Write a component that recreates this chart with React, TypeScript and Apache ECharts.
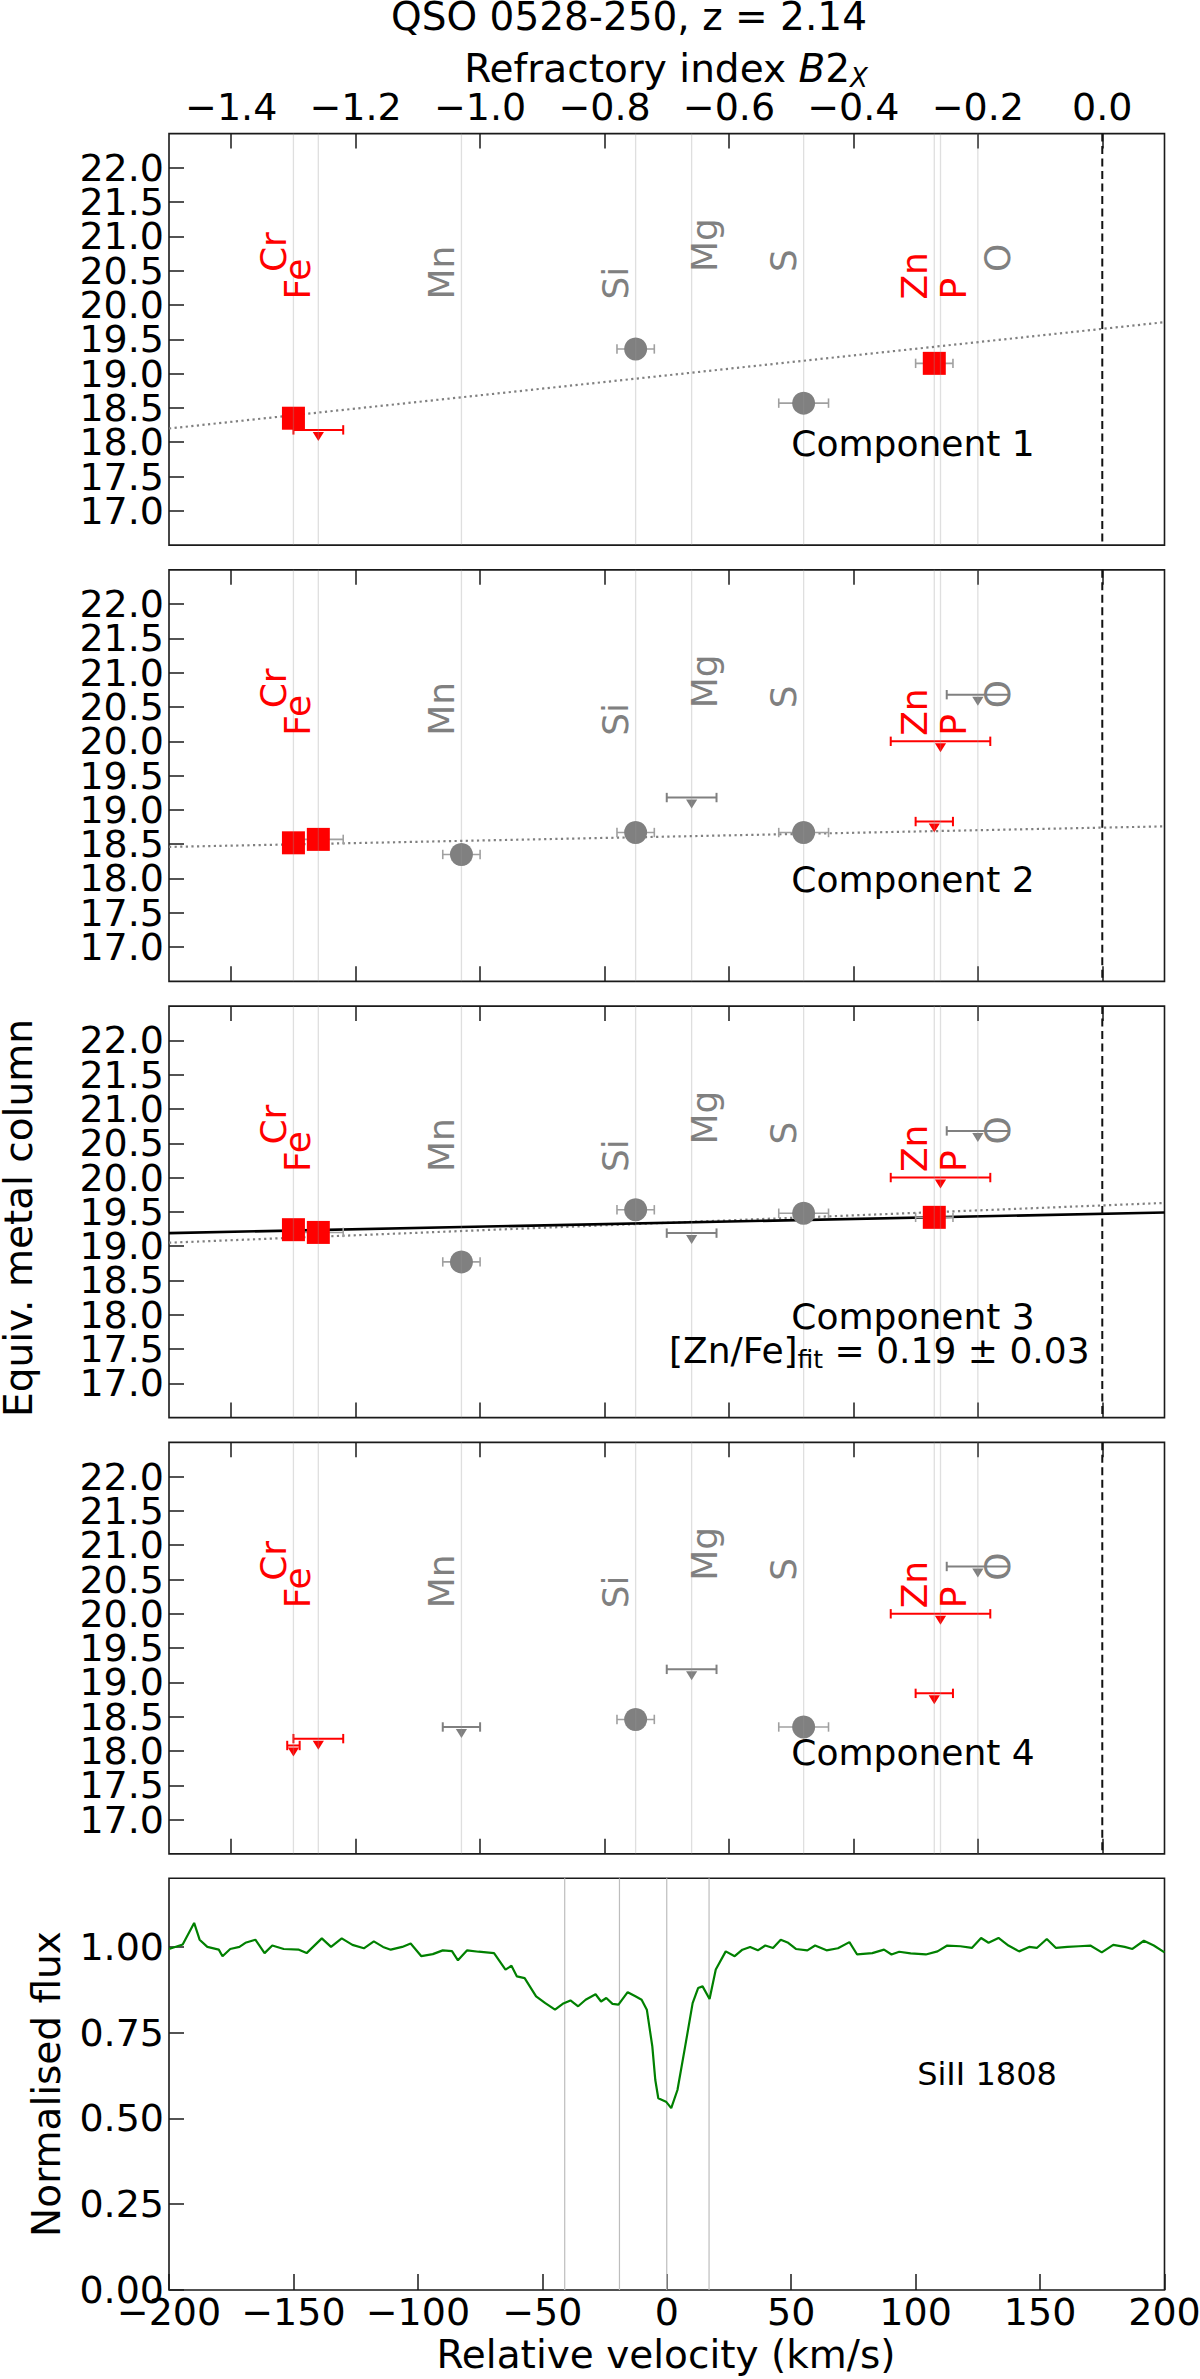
import React, { useEffect, useRef } from "react";
import * as echarts from "echarts";

const FONT = '"DejaVu Sans", "Noto Sans", sans-serif';

// ---------------- data ----------------
const elements = ["Fe", "Cr", "Mn", "Si", "Mg", "S", "Zn", "P", "O"];
const refractoryIndex = [-1.3, -1.26, -1.03, -0.75, -0.66, -0.48, -0.27, -0.26, -0.2];

const b2TickValues = [-1.4, -1.2, -1.0, -0.8, -0.6, -0.4, -0.2, 0.0];
const columnTickValues = [17.0, 17.5, 18.0, 18.5, 19.0, 19.5, 20.0, 20.5, 21.0, 21.5, 22.0];
const velocityTickValues = [-200, -150, -100, -50, 0, 50, 100, 150, 200];
const fluxTickValues = [0, 0.25, 0.5, 0.75, 1.0];

const componentNames = ["Component 1", "Component 2", "Component 3", "Component 4"];

type Row = [string, number, number]; // element, equiv. metal column, B2 uncertainty

const comp1Detections: Row[] = [["Fe", 18.35, 0.01], ["Si", 19.36, 0.03], ["S", 18.57, 0.04], ["Zn", 19.15, 0.03]];
const comp1Limits: Row[] = [["Cr", 18.18, 0.04]];
const comp1Fit: [number, number][] = [[-1.5, 18.2], [0.1, 19.75]];

const comp2Detections: Row[] = [["Fe", 18.52, 0.01], ["Cr", 18.57, 0.04], ["Mn", 18.35, 0.03], ["Si", 18.67, 0.03], ["S", 18.67, 0.04]];
const comp2Limits: Row[] = [["Mg", 19.18, 0.04], ["Zn", 18.83, 0.03], ["P", 20.0, 0.08], ["O", 20.68, 0.05]];
const comp2Fit: [number, number][] = [[-1.5, 18.46], [0.1, 18.76]];

const comp3Detections: Row[] = [["Fe", 19.24, 0.01], ["Cr", 19.2, 0.04], ["Mn", 18.77, 0.03], ["Si", 19.53, 0.03], ["S", 19.48, 0.04], ["Zn", 19.42, 0.03]];
const comp3Limits: Row[] = [["Mg", 19.19, 0.04], ["P", 20.0, 0.08], ["O", 20.68, 0.05]];
const comp3Fit: [number, number][] = [[-1.5, 19.05], [0.1, 19.63]];
const comp3ZnFeFit: [number, number][] = [[-1.5, 19.19], [0.1, 19.49]];

const comp4Detections: Row[] = [["Si", 18.46, 0.03], ["S", 18.35, 0.04]];
const comp4Limits: Row[] = [["Fe", 18.08, 0.01], ["Cr", 18.18, 0.04], ["Mn", 18.35, 0.03], ["Mg", 19.19, 0.04], ["Zn", 18.84, 0.03], ["P", 20.0, 0.08], ["O", 20.69, 0.05]];

const componentVelocities = [-41, -19, 0, 17];

const velocity = [-200.0, -194.5, -189.9, -187.7, -184.6, -180.0, -178.5, -175.4, -171.7, -169.3, -165.3, -161.6, -158.5, -153.9, -147.8, -144.7, -138.6, -134.9, -130.6, -126.3, -121.7, -117.7, -114.0, -110.9, -106.3, -102.9, -98.6, -94.0, -90.0, -86.3, -83.9, -80.2, -75.6, -69.4, -64.8, -62.4, -60.2, -57.1, -52.5, -48.8, -44.9, -41.8, -38.7, -35.6, -32.6, -28.6, -26.4, -24.3, -21.8, -19.4, -15.7, -12.6, -10.1, -8.0, -5.8, -4.6, -3.4, -0.3, 1.8, 4.3, 7.4, 10.4, 12.6, 14.4, 17.2, 19.7, 23.7, 27.3, 30.4, 33.5, 36.6, 39.6, 42.7, 45.8, 48.8, 51.9, 56.5, 59.6, 64.2, 68.8, 73.4, 76.5, 82.6, 87.3, 90.3, 93.4, 98.0, 104.1, 108.8, 112.7, 118.0, 122.6, 126.3, 129.3, 133.3, 137.3, 141.6, 145.6, 148.7, 152.7, 156.4, 161.0, 165.6, 170.2, 174.8, 179.4, 184.0, 187.1, 191.7, 195.7, 200.0];
const flux = [0.994, 1.007, 1.07, 1.021, 1.0, 0.992, 0.973, 0.994, 1.0, 1.012, 1.021, 0.982, 1.004, 0.994, 0.992, 0.982, 1.025, 1.0, 1.025, 1.006, 0.996, 1.016, 1.0, 0.992, 1.0, 1.01, 0.973, 0.979, 0.99, 0.988, 0.961, 0.99, 0.986, 0.982, 0.934, 0.945, 0.914, 0.909, 0.856, 0.836, 0.817, 0.834, 0.844, 0.827, 0.846, 0.862, 0.841, 0.851, 0.834, 0.832, 0.868, 0.856, 0.846, 0.817, 0.71, 0.612, 0.559, 0.549, 0.53, 0.583, 0.71, 0.836, 0.88, 0.885, 0.848, 0.934, 0.987, 0.973, 0.992, 1.0, 0.99, 1.004, 0.997, 1.021, 1.012, 0.994, 0.99, 1.004, 0.99, 0.996, 1.014, 0.978, 0.982, 0.992, 0.978, 0.986, 0.981, 0.978, 0.987, 1.004, 1.002, 0.997, 1.026, 1.012, 1.026, 1.004, 0.987, 1.0, 0.997, 1.023, 0.997, 1.0, 1.002, 1.004, 0.984, 1.006, 1.0, 0.994, 1.018, 1.004, 0.984];

// ---------------- styles / layout ----------------
const RED = "#ff0000";
const GREY = "#808080";
const FRAME = "#1a1a1a";
const DET_ERR = "#a0a0a0";
const elementColor: Record<string, string> = { Fe: RED, Cr: RED, Zn: RED, P: RED, Mn: GREY, Si: GREY, Mg: GREY, S: GREY, O: GREY };
const labelDx: Record<string, number> = { Fe: 4.5, Cr: -45, Mn: -19.5, Si: -20, Mg: 13, S: -20.5, Zn: -20, P: 13, O: 19.5 };
const labelStart: Record<string, number> = { Fe: 166, Cr: 138.5, Mn: 166, Si: 166, Mg: 138.5, S: 138.5, Zn: 166, P: 166, O: 138.5 };

const LEFT = 169;
const WIDTH = 995.5;
const PANEL_TOP0 = 133.6;
const PANEL_STEP = 436.25;
const PANEL_H = 411.5;
const FLUX_TOP = 1878.3;
const FLUX_H = 411.7;
const TICK_FS = 38;
const LABEL_FS = 39;

const minus = (v: number, d: number) => (v < 0 ? "\u2212" : "") + Math.abs(v).toFixed(d);

let measureCtx: CanvasRenderingContext2D | null = null;
function textWidth(t: string, size: number, italic: boolean) {
  if (!measureCtx) measureCtx = document.createElement("canvas").getContext("2d");
  if (!measureCtx) return t.length * size * 0.6;
  measureCtx.font = `${italic ? "italic " : ""}${size}px ${FONT}`;
  return measureCtx.measureText(t).width;
}

function txt(text: string, x: number, y: number, size: number, opts: any = {}) {
  const align = opts.align || "center";
  return {
    type: "text",
    x,
    y,
    rotation: opts.rotation || 0,
    z: 100,
    silent: true,
    style: {
      text,
      fill: opts.fill || "#000",
      font: `${opts.italic ? "italic " : ""}${size}px ${FONT}`,
      fontSize: size,
      fontFamily: FONT,
      fontStyle: opts.italic ? "italic" : "normal",
      align,
      textAlign: align,
      verticalAlign: "middle",
      textVerticalAlign: "middle",
    },
  };
}

type Seg = { t: string; size: number; italic?: boolean; dy?: number };
function segLine(segs: Seg[], x: number, baseline: number, anchor: "left" | "center") {
  const widths = segs.map((s) => textWidth(s.t, s.size, !!s.italic));
  const total = widths.reduce((a, b) => a + b, 0);
  let cx = anchor === "center" ? x - total / 2 : x;
  const out: any[] = [];
  segs.forEach((s, i) => {
    out.push(txt(s.t, cx, baseline + (s.dy || 0) - 0.35 * s.size, s.size, { align: "left", italic: s.italic }));
    cx += widths[i];
  });
  return out;
}

function buildOption() {
  const grids: any[] = [];
  const xAxes: any[] = [];
  const yAxes: any[] = [];
  const series: any[] = [];

  const tickStyle = { color: FRAME, width: 1.5 };
  const labelBase = { fontSize: TICK_FS, fontFamily: FONT, color: "#000", showMinLabel: true, showMaxLabel: true, hideOverlap: false };
  const noLine = { show: false, onZero: false };
  // whole-number and half-number labels sit on two coincident axes so that none is dropped
  const wholeTicks = columnTickValues.filter((v) => Number.isInteger(v));
  const halfTicks = columnTickValues.filter((v) => !Number.isInteger(v));

  const b2Axis = (grid: number, position: string, labels: boolean) => ({
    type: "value",
    gridIndex: grid,
    position,
    min: -1.5,
    max: 0.1,
    axisLine: noLine,
    splitLine: { show: false },
    axisTick: { show: true, inside: true, length: 15, lineStyle: tickStyle, customValues: b2TickValues },
    axisLabel: labels
      ? { show: true, customValues: b2TickValues, formatter: (v: number) => minus(v, 1), margin: 8, ...labelBase }
      : { show: false },
  });

  const panels = [
    { det: comp1Detections, lim: comp1Limits, fits: [comp1Fit], solid: null as any },
    { det: comp2Detections, lim: comp2Limits, fits: [comp2Fit], solid: null as any },
    { det: comp3Detections, lim: comp3Limits, fits: [comp3Fit], solid: comp3ZnFeFit },
    { det: comp4Detections, lim: comp4Limits, fits: [], solid: null as any },
  ];

  panels.forEach((p, i) => {
    grids.push({
      left: LEFT,
      top: PANEL_TOP0 + i * PANEL_STEP,
      width: WIDTH,
      height: PANEL_H,
      show: true,
      borderColor: FRAME,
      borderWidth: 1.6,
      backgroundColor: "rgba(0,0,0,0)",
      containLabel: false,
      outerBoundsMode: "none",
    });
    let xi: number;
    if (i === 0) {
      xi = xAxes.length;
      xAxes.push(b2Axis(i, "top", true));
    } else {
      xi = xAxes.length;
      xAxes.push(b2Axis(i, "bottom", false));
      xAxes.push(b2Axis(i, "top", false));
    }
    const yi = yAxes.length;
    yAxes.push({
      type: "value",
      gridIndex: i,
      position: "left",
      min: 16.5,
      max: 22.5,
      axisLine: noLine,
      splitLine: { show: false },
      axisTick: { show: true, inside: true, length: 15, lineStyle: tickStyle, customValues: columnTickValues },
      axisLabel: { show: true, customValues: wholeTicks, formatter: (v: number) => v.toFixed(1), margin: 5, ...labelBase },
    });
    yAxes.push({
      type: "value",
      gridIndex: i,
      position: "right",
      offset: -WIDTH,
      min: 16.5,
      max: 22.5,
      axisLine: noLine,
      splitLine: { show: false },
      axisTick: { show: false },
      axisLabel: { show: true, inside: true, customValues: halfTicks, formatter: (v: number) => v.toFixed(1), margin: 5, ...labelBase },
    });

    const ax = { xAxisIndex: xi, yAxisIndex: yi };

    // fits
    p.fits.forEach((f) => {
      series.push({
        type: "line",
        ...ax,
        data: f,
        showSymbol: false,
        silent: true,
        z: 1,
        lineStyle: { color: GREY, width: 2.2, type: [2.2, 3.4] },
      });
    });
    if (p.solid) {
      series.push({
        type: "line",
        ...ax,
        data: p.solid,
        showSymbol: false,
        silent: true,
        z: 1,
        lineStyle: { color: "#000", width: 2.6, type: "solid" },
      });
    }

    // error bars + upper-limit arrows
    const items = [
      ...p.det.map((r) => ({ el: r[0], y: r[1], err: r[2], limit: false })),
      ...p.lim.map((r) => ({ el: r[0], y: r[1], err: r[2], limit: true })),
    ].map((it) => ({ ...it, b2: refractoryIndex[elements.indexOf(it.el)] }));

    series.push({
      type: "custom",
      ...ax,
      silent: true,
      z: 2,
      data: items.map((it) => [it.b2, it.y]),
      renderItem: (params: any, api: any) => {
        const it = items[params.dataIndex];
        const c = api.coord([it.b2, it.y]);
        const l = api.coord([it.b2 - it.err, it.y])[0];
        const r = api.coord([it.b2 + it.err, it.y])[0];
        const color = it.limit ? elementColor[it.el] : DET_ERR;
        const lw = it.limit ? 2 : 1.6;
        const st = { stroke: color, lineWidth: lw };
        const children: any[] = [
          { type: "line", shape: { x1: l, y1: c[1], x2: r, y2: c[1] }, style: st },
          { type: "line", shape: { x1: l, y1: c[1] - 4.7, x2: l, y2: c[1] + 4.7 }, style: st },
          { type: "line", shape: { x1: r, y1: c[1] - 4.7, x2: r, y2: c[1] + 4.7 }, style: st },
        ];
        if (it.limit) {
          children.push({
            type: "polygon",
            shape: { points: [[c[0] - 5.6, c[1] + 2], [c[0] + 5.6, c[1] + 2], [c[0], c[1] + 11]] },
            style: { fill: color },
          });
        }
        return { type: "group", children };
      },
    });

    // detection markers
    series.push({
      type: "scatter",
      ...ax,
      silent: true,
      z: 3,
      symbolSize: 23,
      data: p.det.map((r) => ({
        value: [refractoryIndex[elements.indexOf(r[0])], r[1]],
        symbol: elementColor[r[0]] === RED ? "rect" : "circle",
        itemStyle: { color: elementColor[r[0]], opacity: 1 },
      })),
    });

    // element reference lines (semi-transparent, on top)
    series.push({
      type: "custom",
      ...ax,
      silent: true,
      z: 4,
      data: refractoryIndex.map((v) => [v, 20]),
      renderItem: (params: any, api: any) => {
        const cs = params.coordSys;
        const x = api.coord([api.value(0), 20])[0];
        return {
          type: "line",
          shape: { x1: x, y1: cs.y, x2: x, y2: cs.y + cs.height },
          style: { stroke: "rgba(150,150,150,0.3)", lineWidth: 1.3 },
        };
      },
    });

    // dashed zero line
    series.push({
      type: "custom",
      ...ax,
      silent: true,
      z: 4,
      data: [[0, 20]],
      renderItem: (params: any, api: any) => {
        const cs = params.coordSys;
        const x = api.coord([api.value(0), 20])[0];
        return {
          type: "line",
          shape: { x1: x, y1: cs.y, x2: x, y2: cs.y + cs.height },
          style: { stroke: "#111", lineWidth: 2, lineDash: [8, 4.5] },
        };
      },
    });

    // element labels
    series.push({
      type: "custom",
      ...ax,
      silent: true,
      z: 5,
      data: refractoryIndex.map((v) => [v, 20]),
      renderItem: (params: any, api: any) => {
        const cs = params.coordSys;
        const el = elements[params.dataIndex];
        const x = api.coord([api.value(0), 20])[0] + labelDx[el];
        const y = cs.y + labelStart[el];
        return {
          type: "text",
          x,
          y,
          rotation: Math.PI / 2,
          style: {
            text: el,
            fill: elementColor[el],
            font: `36px ${FONT}`,
            fontSize: 36,
            fontFamily: FONT,
            align: "left",
            textAlign: "left",
            verticalAlign: "middle",
            textVerticalAlign: "middle",
          },
        };
      },
    });
  });

  // ---------- flux panel ----------
  const fg = grids.length;
  grids.push({
    left: LEFT,
    top: FLUX_TOP,
    width: WIDTH,
    height: FLUX_H,
    show: true,
    borderColor: FRAME,
    borderWidth: 1.6,
    backgroundColor: "rgba(0,0,0,0)",
    containLabel: false,
    outerBoundsMode: "none",
  });
  const fx = xAxes.length;
  xAxes.push({
    type: "value",
    gridIndex: fg,
    position: "bottom",
    min: -200,
    max: 200,
    axisLine: noLine,
    splitLine: { show: false },
    axisTick: { show: true, inside: true, length: 16, lineStyle: tickStyle, customValues: velocityTickValues },
    axisLabel: { show: true, customValues: velocityTickValues, formatter: (v: number) => minus(v, 0), margin: 3, ...labelBase },
  });
  const fy = yAxes.length;
  yAxes.push({
    type: "value",
    gridIndex: fg,
    position: "left",
    min: 0,
    max: 1.2,
    axisLine: noLine,
    splitLine: { show: false },
    axisTick: { show: true, inside: true, length: 15, lineStyle: tickStyle, customValues: fluxTickValues },
    axisLabel: { show: true, customValues: fluxTickValues, formatter: (v: number) => v.toFixed(2), margin: 5, ...labelBase },
  });
  series.push({
    type: "custom",
    xAxisIndex: fx,
    yAxisIndex: fy,
    silent: true,
    z: 1,
    data: componentVelocities.map((v) => [v, 0.5]),
    renderItem: (params: any, api: any) => {
      const cs = params.coordSys;
      const x = api.coord([api.value(0), 0.5])[0];
      return {
        type: "line",
        shape: { x1: x, y1: cs.y, x2: x, y2: cs.y + cs.height },
        style: { stroke: "#bdbdbd", lineWidth: 1.2 },
      };
    },
  });
  const n = Math.min(velocity.length, flux.length);
  series.push({
    type: "line",
    xAxisIndex: fx,
    yAxisIndex: fy,
    silent: true,
    z: 3,
    showSymbol: false,
    data: velocity.slice(0, n).map((v, i) => [v, flux[i]]),
    lineStyle: { color: "#008000", width: 2.2 },
  });

  // ---------- free texts ----------
  const graphics: any[] = [];
  graphics.push(txt("QSO 0528-250, z = 2.14", 629, 30 - 0.35 * LABEL_FS, LABEL_FS));
  graphics.push(
    ...segLine(
      [
        { t: "Refractory index ", size: LABEL_FS },
        { t: "B", size: LABEL_FS, italic: true },
        { t: "2", size: LABEL_FS },
        { t: "X", size: 26, italic: true, dy: 5.5 },
      ],
      666,
      81.7,
      "center"
    )
  );
  componentNames.forEach((name, i) => {
    graphics.push(txt(name, 913, PANEL_TOP0 + i * PANEL_STEP + 310, 36));
  });
  graphics.push(
    ...segLine(
      [
        { t: "[Zn/Fe]", size: 36 },
        { t: "fit", size: 25, dy: 5 },
        { t: " = 0.19 \u00b1 0.03", size: 36 },
      ],
      669,
      1363.3,
      "left"
    )
  );
  graphics.push(txt("Equiv. metal column", 18, 1218, LABEL_FS, { rotation: Math.PI / 2 }));
  graphics.push(txt("Normalised flux", 46, 2084, LABEL_FS, { rotation: Math.PI / 2 }));
  graphics.push(txt("SiII 1808", 987, 2085 - 0.35 * 32, 32));
  graphics.push(txt("Relative velocity (km/s)", 666, 2368.5 - 0.35 * LABEL_FS, LABEL_FS));

  return {
    animation: false,
    backgroundColor: "#ffffff",
    textStyle: { fontFamily: FONT },
    grid: grids,
    xAxis: xAxes,
    yAxis: yAxes,
    series,
    graphic: { elements: graphics },
  };
}

export default function App() {
  const ref = useRef<HTMLDivElement>(null);
  useEffect(() => {
    document.body.style.margin = "0";
    if (!ref.current) return;
    const chart = echarts.init(ref.current, undefined, { renderer: "svg" });
    chart.setOption(buildOption() as any);
    return () => chart.dispose();
  }, []);
  return <div ref={ref} style={{ width: 1200, height: 2379, background: "#fff" }} />;
}
